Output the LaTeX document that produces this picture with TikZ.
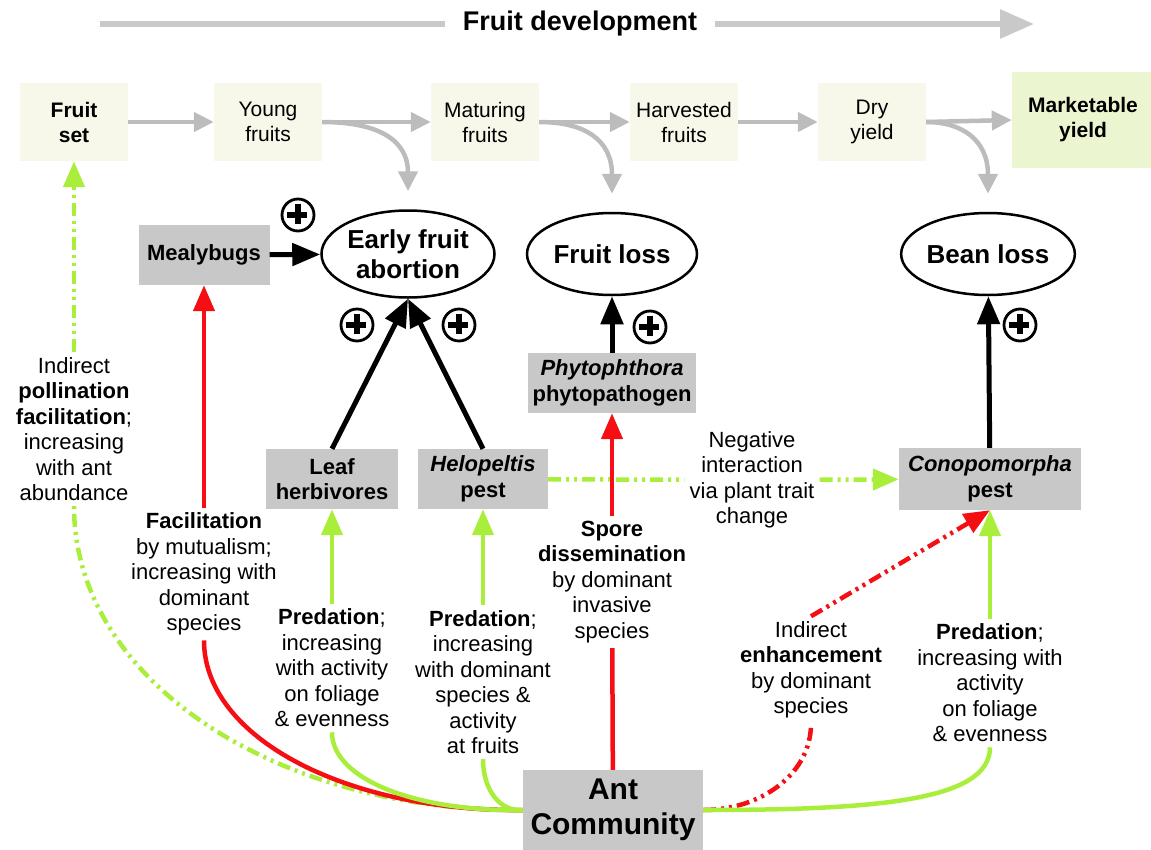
\documentclass[tikz,border=0pt]{standalone}
\usepackage{fontspec}
\setmainfont{Liberation Sans}
\usetikzlibrary{arrows.meta,shapes.geometric}

\definecolor{lime}{RGB}{170,238,60}
\definecolor{antred}{RGB}{245,15,20}
\definecolor{boxgray}{RGB}{200,200,200}
\definecolor{stagebg}{RGB}{247,248,234}
\definecolor{flowgray}{RGB}{188,188,188}

\begin{document}
\begin{tikzpicture}[x=1pt, y=-1pt, >={Triangle[length=26pt,width=21pt]},
  stage/.style={fill=stagebg, align=center, minimum width=108pt, minimum height=78pt, inner sep=0pt, font=\fontsize{21}{25}\selectfont},
  pestbox/.style={fill=boxgray, align=center, minimum height=60pt, inner sep=0pt, font=\fontsize{22}{25.5}\selectfont\bfseries},
  loss/.style={draw, ellipse, line width=2.5pt, align=center, inner sep=0pt, font=\fontsize{26}{30}\selectfont\bfseries},
  lbl/.style={align=center, inner sep=5pt, font=\fontsize{22}{25.5}\selectfont},
  pluscirc/.style={circle, draw, line width=2.8pt, minimum size=32pt, inner sep=0pt},
  stagearrow/.style={draw=flowgray, line width=4.5pt, ->, >={Triangle[length=20pt,width=19pt]}},
  blk/.style={line width=5pt, ->, >={Triangle[length=28pt,width=22pt]}},
  link/.style={line width=4.5pt},
  dashdot/.style={dash pattern=on 13pt off 5pt on 3pt off 5pt on 3pt off 5pt}]

\useasboundingbox (0,0) rectangle (1151,849);

% fruit development
\coordinate (fdA) at (100,24);
\coordinate (fdB) at (1034,24);
\node[font=\fontsize{27}{30}\selectfont\bfseries, inner xsep=18pt] (fdev) at (580,24) {Fruit development};
\draw[draw=flowgray!80, line width=6pt, ->, >={Triangle[length=34pt,width=28pt]}] (fdA) -- (fdev) -- (fdB);

\node[stage] (s1) at (74,122) {\textbf{Fruit}\\\textbf{set}};
\node[stage] (s2) at (268,122) {Young\\fruits};
\node[stage] (s3) at (485,122) {Maturing\\fruits};
\node[stage] (s4) at (684,122) {Harvested\\fruits};
\node[stage] (s5) at (872,122) {Dry\\yield};
\node[stage, fill=stagebg!85!lime, minimum width=142pt, minimum height=96pt] (s6) at (1083,120) {\textbf{Marketable}\\\textbf{yield}};
\foreach \a/\b in {s1/s2, s2/s3, s3/s4, s4/s5, s5/s6}{
  \draw[stagearrow] (\a.east) -- (\b.west);
}

% losses
\node[loss, minimum width=173pt, minimum height=87pt] (efa) at (408,254) {Early fruit\\abortion};
\node[loss, minimum width=170pt, minimum height=82pt] (fl) at (612,254) {Fruit loss};
\node[loss, minimum width=165pt, minimum height=82pt] (bl) at (988,254) {Bean loss};

\draw[stagearrow, shorten >=18pt] (s2.east) .. controls (378,122) and (408,140) .. (efa.north);
\draw[stagearrow, shorten >=18pt] (s3.east) .. controls (585,122) and (612,140) .. (fl.north);
\draw[stagearrow, shorten >=18pt] (s5.east) .. controls (962,122) and (988,140) .. (bl.north);

% pests
\node[pestbox, minimum width=131pt] (mb) at (204,255) {Mealybugs};
\node[pestbox, minimum width=132pt] (lh) at (332,479) {Leaf\\herbivores};
\node[pestbox, minimum width=130pt] (hp) at (483,479) {\textit{Helopeltis}\\pest};
\node[pestbox, minimum width=168pt] (ph) at (612,383) {\textit{Phytophthora}\\phytopathogen};
\node[pestbox, minimum width=182pt, minimum height=62pt] (cp) at (990,479) {\textit{Conopomorpha}\\pest};
\node[pestbox, minimum width=180pt, minimum height=80pt, font=\fontsize{30}{35}\selectfont\bfseries] (ant) at (613,810) {Ant\\Community};

\draw[blk] (mb) -- (efa);
\draw[blk] (lh.north) -- (efa.south);
\draw[blk] (hp.north) -- (efa.south);
\draw[blk] (ph) -- (fl);
\draw[blk] (cp) -- (bl);

\foreach \n/\px/\py in {p1/298/215, p2/357/325, p3/459/325, p4/650/327, p5/1020/325}{
  \node[pluscirc] (\n) at (\px,\py) {};
  \draw[line width=5.5pt] (\n.west) ++(6,0) -- ++(20,0) (\n.north) ++(0,6) -- ++(0,20);
}

% ant effects
\node[lbl] (lpol) at (74,429) {Indirect\\\textbf{pollination}\\\textbf{facilitation};\\increasing\\with ant\\abundance};
\node[lbl] (lfac) at (204,574) {\textbf{Facilitation}\\by mutualism;\\increasing with\\dominant\\species};
\node[lbl] (lpl) at (332,668) {\textbf{Predation};\\increasing\\with activity\\on foliage\\\& evenness};
\node[lbl] (lph) at (483,682) {\textbf{Predation};\\increasing\\with dominant\\species \&\\activity\\at fruits};
\node[lbl] (lsp) at (612,582) {\textbf{Spore}\\\textbf{dissemination}\\by dominant\\invasive\\species};
\node[lbl] (lneg) at (752,480) {Negative\\interaction\\via plant trait\\change};
\node[lbl] (len) at (811,670) {Indirect\\\textbf{enhancement}\\by dominant\\species};
\node[lbl] (lpc) at (990,683) {\textbf{Predation};\\increasing with\\activity\\on foliage\\\& evenness};

\draw[link, lime, dashdot, ->] (lpol) -- (s1);
\draw[link, lime, dashdot] (ant.west) .. controls (275,812) and (74,680) .. (lpol.south);
\draw[link, antred] (ant.west) .. controls (347,812) and (204,738) .. (lfac.south);
\draw[link, antred, ->] (lfac) -- (mb);
\draw[link, lime] (ant.west) .. controls (418,812) and (332,780) .. (lpl.south);
\draw[link, lime, ->] (lpl) -- (lh);
\draw[link, lime] (ant.west) .. controls (500,812) and (483,790) .. (lph.south);
\draw[link, lime, ->] (lph) -- (hp);
\draw[link, lime, dashdot] (hp) -- (lneg);
\draw[link, lime, dashdot, ->] (lneg) -- (cp);
\draw[link, antred] (ant) -- (lsp);
\draw[link, antred, ->] (lsp) -- (ph);
\draw[link, antred, dashdot] (ant.east) .. controls (761,810) and (811,774) .. (len.south);
\draw[link, antred, dashdot, ->] (len.north) -- (cp.south);
\draw[link, lime] (ant.east) .. controls (880,810) and (990,800) .. (lpc.south);
\draw[link, lime, ->] (lpc) -- (cp);

\end{tikzpicture}
\end{document}
